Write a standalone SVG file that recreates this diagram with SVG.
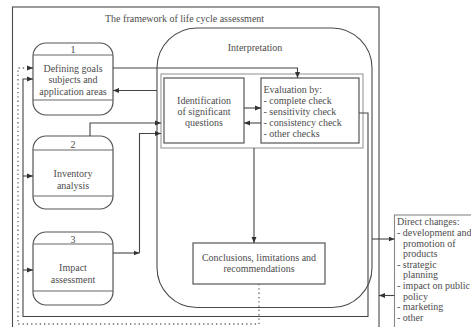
<svg xmlns="http://www.w3.org/2000/svg" width="471" height="327" viewBox="0 0 471 327">
  <style>
    text { font-family: "Liberation Serif", "Times New Roman", serif; font-size: 10px; fill: #4d4d4d; }
    .c { text-anchor: middle; }
    .box { fill: none; stroke: #555; stroke-width: 1.2; }
    .frame { fill: none; stroke: #4a4a4a; stroke-width: 1.1; }
    .light { fill: none; stroke: #999; stroke-width: 1.1; }
    .sep { stroke: #666; stroke-width: 1; }
    .wire { fill: none; stroke: #444; stroke-width: 1.1; }
    .dots { fill: none; stroke: #666; stroke-width: 1.3; stroke-dasharray: 1.3 3; }
  </style>
  <defs>
    <marker id="arr" markerUnits="userSpaceOnUse" markerWidth="6" markerHeight="6" refX="6" refY="3" orient="auto">
      <path d="M0,0.5 L6,3 L0,5.5 z" fill="#333"/>
    </marker>
  </defs>

  <!-- framework frame (continues below the visible area) -->
  <g id="framework">
    <rect class="frame" x="12.5" y="7" width="366.5" height="340"/>
    <text x="105" y="21.5">The framework of life cycle assessment</text>
  </g>

  <!-- interpretation phase -->
  <g id="interpretation">
    <rect class="frame" x="157" y="28" width="215" height="279.5" rx="40" ry="40"/>
    <text class="c" x="255" y="50.5">Interpretation</text>
    <rect class="light" x="161" y="74" width="202" height="74"/>
  </g>

  <g id="goals">
    <rect class="box" x="33" y="43" width="80" height="72" rx="13" ry="13"/>
    <line class="sep" x1="33" y1="55" x2="113" y2="55"/>
    <line class="sep" x1="33" y1="100" x2="113" y2="100"/>
    <text class="c" x="73" y="52.5">1</text>
    <text class="c" x="73" y="71.5">Defining goals</text>
    <text class="c" x="73" y="83">subjects and</text>
    <text class="c" x="73" y="94.5">application areas</text>
  </g>

  <g id="inventory">
    <rect class="box" x="33" y="136" width="80" height="73" rx="13" ry="13"/>
    <line class="sep" x1="33" y1="150" x2="113" y2="150"/>
    <line class="sep" x1="33" y1="196" x2="113" y2="196"/>
    <text class="c" x="73" y="147.5">2</text>
    <text class="c" x="73" y="177">Inventory</text>
    <text class="c" x="73" y="188.5">analysis</text>
  </g>

  <g id="impact">
    <rect class="box" x="33" y="232" width="80" height="73" rx="13" ry="13"/>
    <line class="sep" x1="33" y1="244" x2="113" y2="244"/>
    <line class="sep" x1="33" y1="291" x2="113" y2="291"/>
    <text class="c" x="73" y="242.5">3</text>
    <text class="c" x="73" y="271">Impact</text>
    <text class="c" x="73" y="282.5">assessment</text>
  </g>

  <g id="identification">
    <rect class="box" x="164" y="78" width="80" height="65"/>
    <text class="c" x="204" y="103.5">Identification</text>
    <text class="c" x="204" y="114.5">of significant</text>
    <text class="c" x="204" y="125.5">questions</text>
  </g>

  <g id="evaluation">
    <rect class="box" x="261" y="78" width="98" height="65"/>
    <text x="263.5" y="92.5">Evaluation by:</text>
    <text x="263.5" y="103.5">- complete check</text>
    <text x="263.5" y="114.5">- sensitivity check</text>
    <text x="263.5" y="125.5">- consistency check</text>
    <text x="263.5" y="136.5">- other checks</text>
  </g>

  <g id="conclusions">
    <rect class="box" x="193" y="243" width="132" height="41"/>
    <text class="c" x="259" y="260.5">Conclusions, limitations and</text>
    <text class="c" x="259" y="272">recommendations</text>
  </g>

  <g id="direct-changes">
    <rect class="light" x="394.5" y="215" width="100" height="130" style="stroke:#888"/>
    <text x="397" y="225">Direct changes:</text>
    <text x="397" y="236">- development and</text>
    <text x="403" y="246.5">promotion of</text>
    <text x="403" y="257">products</text>
    <text x="397" y="267.5">- strategic</text>
    <text x="403" y="278">planning</text>
    <text x="397" y="289">- impact on public</text>
    <text x="403" y="299.5">policy</text>
    <text x="397" y="310">- marketing</text>
    <text x="397" y="320.5">- other</text>
  </g>

  <g id="connectors">
    <!-- goals to evaluation, and back -->
    <path class="wire" d="M113,68 H297.5 V78" marker-end="url(#arr)"/>
    <path class="wire" d="M157,90.5 H113" marker-end="url(#arr)"/>
    <!-- inventory and impact into interpretation -->
    <path class="wire" d="M90,136 V123 H161" marker-end="url(#arr)"/>
    <path class="wire" d="M113,253 H139.5" marker-end="url(#arr)"/>
    <path class="wire" d="M139.5,253 V133.5 H161" marker-end="url(#arr)"/>
    <!-- identification / evaluation -->
    <path class="wire" d="M244,108 H261" marker-end="url(#arr)"/>
    <path class="wire" d="M261,123 H244" marker-end="url(#arr)"/>
    <!-- down to conclusions -->
    <path class="wire" d="M254,148 V243" marker-end="url(#arr)"/>
    <!-- feedback loop from evaluation to the phases -->
    <path class="wire" d="M359,113 H368 V316.5 H23 V79 H33" marker-end="url(#arr)"/>
    <path class="wire" d="M23,176 H33" marker-end="url(#arr)"/>
    <path class="wire" d="M23,270 H33" marker-end="url(#arr)"/>
    <!-- dotted return from conclusions -->
    <path class="dots" d="M259,284 V324 H18 V68 H28"/>
    <path class="wire" d="M28,68 H33" marker-end="url(#arr)"/>
    <!-- direct changes -->
    <path class="wire" d="M372,239 H394.5" marker-end="url(#arr)"/>
    <path class="wire" d="M394.5,295.5 H379" marker-end="url(#arr)"/>
  </g>
</svg>
